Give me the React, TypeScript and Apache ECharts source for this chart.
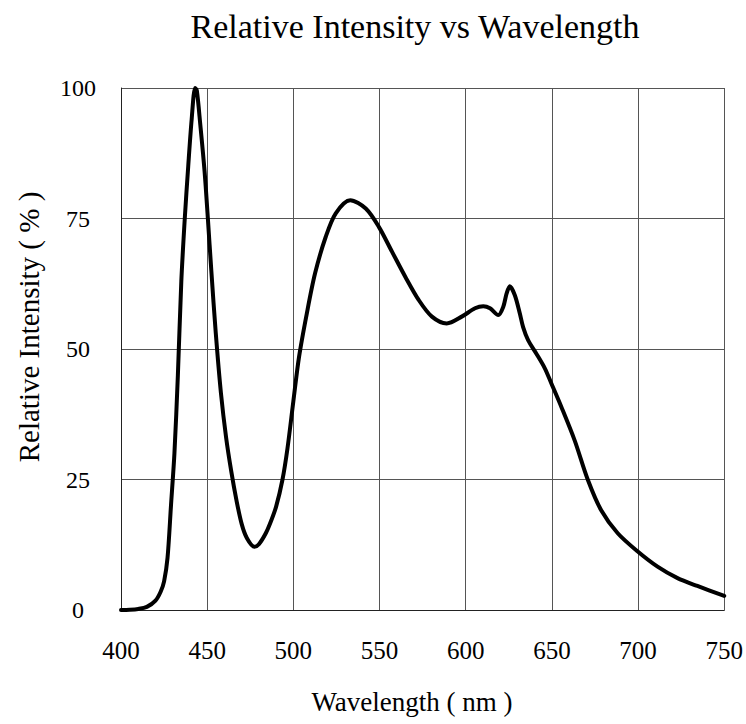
import React, { useEffect, useRef } from "react";
import * as echarts from "echarts";

const wavelengths = [
  400, 405, 410, 415, 420, 423, 425, 427, 429, 431, 433, 435, 437, 439, 441, 443, 444, 446, 448.5, 450.4,
  452.4, 455, 458, 461, 464, 467, 470, 473, 477.4, 480, 484, 487, 490, 493.7, 496.6, 500, 503.3, 507.8,
  512.6, 518.8, 524.6, 533, 542, 549.6, 557.3, 565, 572.7, 580.4, 589, 597.7, 605.4, 610.2, 614.1, 618.9,
  621.8, 623.7, 625.6, 628.5, 631.4, 633.3, 636.2, 641, 645.9, 649.7, 655.5, 663.2, 670.9, 678.6, 688.2,
  699.8, 711.3, 722.9, 734.4, 750,
];
const intensity = [
  0, 0.05, 0.2, 0.6, 1.8, 3.5, 5.5, 10, 20, 30, 45, 63, 75, 85, 94, 100, 99.5, 93, 84, 75,
  65, 53, 41.5, 33, 26.5, 21, 16.5, 13.8, 12.1, 12.6, 14.7, 17, 19.8, 25, 31, 40, 48.5, 56.8,
  64.5, 71.5, 76, 78.5, 76.9, 73.4, 68.6, 63.8, 59.4, 56.2, 54.9, 56.2, 57.8, 58.2, 57.8, 56.5,
  58.1, 60.6, 62, 60.3, 56.8, 54.2, 51.7, 49.1, 46.3, 43.4, 38.9, 32.5, 24.9, 19.1, 14.7,
  11.2, 8.3, 6.1, 4.6, 2.7,
];

const xTicks = [400, 450, 500, 550, 600, 650, 700, 750];
const yTicks = [0, 25, 50, 75, 100];

const chartTitle = "Relative Intensity vs Wavelength";
const xName = "Wavelength ( nm )";
const yName = "Relative Intensity ( % )";

const FONT = '"Liberation Serif", "Times New Roman", serif';

export default function App() {
  const ref = useRef<HTMLDivElement>(null);
  useEffect(() => {
    if (!ref.current) return;
    const chart = echarts.init(ref.current, undefined, { renderer: "svg" });
    const data = wavelengths.map((w, i) => [w, intensity[i]]);
    chart.setOption({
      animation: false,
      backgroundColor: "#ffffff",
      grid: { left: 121, right: 19, top: 88, bottom: 114, containLabel: false },
      graphic: [
        {
          type: "text",
          x: 415,
          y: 26,
          style: {
            text: chartTitle,
            font: `34px ${FONT}`,
            fill: "#000",
            textAlign: "center",
            textVerticalAlign: "middle",
          },
        },
        {
          type: "text",
          x: 412,
          y: 702,
          style: {
            text: xName,
            font: `27px ${FONT}`,
            fill: "#000",
            textAlign: "center",
            textVerticalAlign: "middle",
          },
        },
        {
          type: "text",
          x: 29,
          y: 327,
          rotation: Math.PI / 2,
          style: {
            text: yName,
            font: `29px ${FONT}`,
            fill: "#000",
            textAlign: "center",
            textVerticalAlign: "middle",
          },
        },
      ],
      xAxis: {
        type: "value",
        min: xTicks[0],
        max: xTicks[xTicks.length - 1],
        interval: 50,
        axisLine: { show: true, lineStyle: { color: "#222", width: 1 } },
        axisTick: { show: false },
        axisLabel: {
          margin: 28,
          fontFamily: FONT,
          fontSize: 25,
          color: "#000",
          formatter: (v: number) => (xTicks.includes(v) ? String(v) : ""),
        },
        splitLine: { show: true, lineStyle: { color: "#555", width: 1 } },
      },
      yAxis: {
        type: "value",
        min: yTicks[0],
        max: yTicks[yTicks.length - 1],
        interval: 25,
        axisLine: { show: true, lineStyle: { color: "#222", width: 1 } },
        axisTick: { show: false },
        axisLabel: {
          margin: 43,
          align: "center",
          fontFamily: FONT,
          fontSize: 24,
          color: "#000",
          formatter: (v: number) => (yTicks.includes(v) ? String(v) : ""),
        },
        splitLine: { show: true, lineStyle: { color: "#555", width: 1 } },
      },
      series: [
        {
          type: "line",
          data,
          showSymbol: false,
          smooth: 0.3,
          lineStyle: { color: "#000", width: 4, join: "round", cap: "round" },
          itemStyle: { color: "#000" },
          clip: false,
        },
      ],
    });
    return () => chart.dispose();
  }, []);
  return (
    <div
      ref={ref}
      style={{ position: "fixed", left: 0, top: 0, width: 746, height: 724, background: "#fff" }}
    />
  );
}
